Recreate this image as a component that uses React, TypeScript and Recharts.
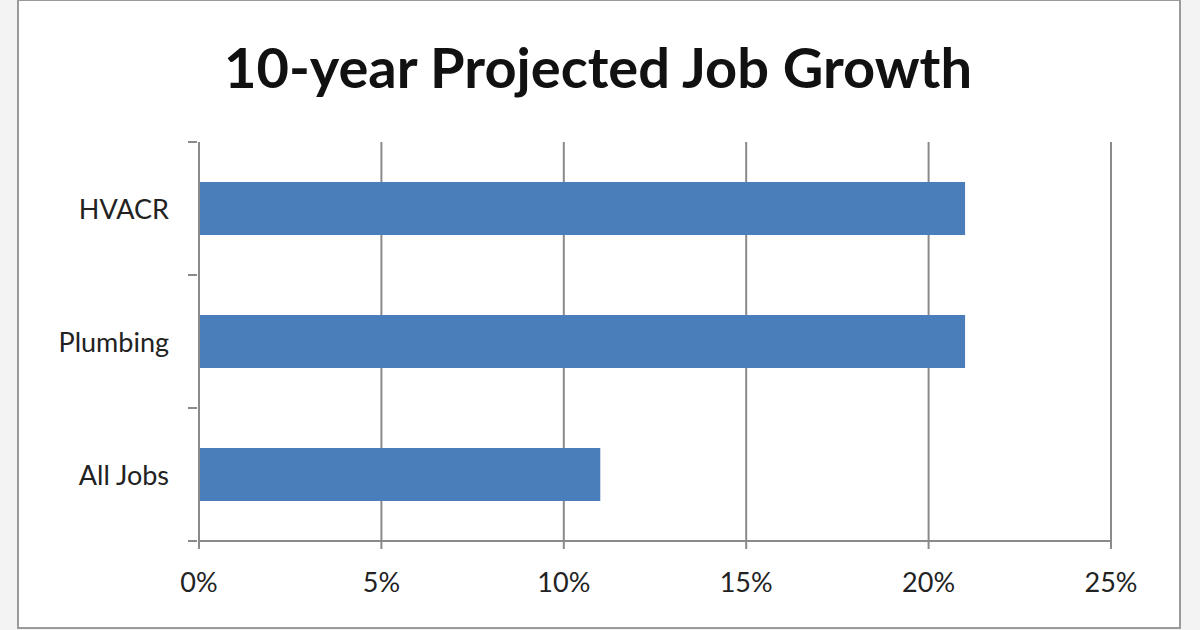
import React from 'react';
import { BarChart, Bar, XAxis, YAxis, CartesianGrid } from 'recharts';

const categories = ['HVACR', 'Plumbing', 'All Jobs'];
const growth = [21, 21, 11];
const xTicks = [0, 5, 10, 15, 20, 25];
const title = '10-year Projected Job Growth';

const data = categories.map((c, i) => ({ name: c, value: growth[i] }));

const FONT = 'Lato, "Open Sans", sans-serif';
const AXIS = '#8a8a8a';

const CatTick = (props: any) => {
  const { x, y, payload } = props;
  const off = payload && typeof payload.offset === 'number' ? payload.offset : 0;
  const axisX = x + 8;
  return (
    <g>
      {off > 0 && (
        <>
          <line x1={axisX - 9} x2={axisX} y1={y - off} y2={y - off} stroke={AXIS} strokeWidth={2} />
          <line x1={axisX - 9} x2={axisX} y1={y + off} y2={y + off} stroke={AXIS} strokeWidth={2} />
        </>
      )}
      <text x={x - 20} y={y} textAnchor="end" dominantBaseline="central" fill="#222" fontSize={27} fontFamily={FONT}>
        {payload.value}
      </text>
    </g>
  );
};

export default function App() {
  return (
    <div style={{ position: 'fixed', left: 0, top: 0, width: 1200, height: 630, background: '#f3f3f3', overflow: 'hidden' }}>
      <div style={{ position: 'absolute', left: 17, top: -1, width: 1160, height: 626, border: '2px solid #9a9a9a', background: '#fff' }} />
      <div style={{ position: 'absolute', left: 0, top: 32, width: 1196, textAlign: 'center', fontFamily: FONT, fontWeight: 700, fontSize: 56, color: '#111', lineHeight: '70px' }}>
        {title}
      </div>
      <div style={{ position: 'absolute', left: 0, top: 0 }}>
        <BarChart
          width={1200}
          height={630}
          data={data}
          layout="vertical"
          margin={{ top: 142, right: 89, bottom: 29, left: 19 }}
          barCategoryGap="30%"
        >
          <CartesianGrid horizontal={false} vertical={true} stroke={AXIS} strokeWidth={2} />
          <XAxis
            type="number"
            domain={[0, 25]}
            ticks={xTicks}
            tickFormatter={(v: number) => `${v}%`}
            height={60}
            stroke={AXIS}
            strokeWidth={2}
            tickSize={8}
            tick={{ fill: '#222', fontSize: 27, fontFamily: FONT, dy: 22 }}
          />
          <YAxis
            type="category"
            dataKey="name"
            width={180}
            stroke={AXIS}
            strokeWidth={2}
            tickLine={false}
            tickSize={8}
            tick={CatTick}
          />
          <Bar dataKey="value" fill="#4a7ebb" isAnimationActive={false} />
        </BarChart>
      </div>
    </div>
  );
}
